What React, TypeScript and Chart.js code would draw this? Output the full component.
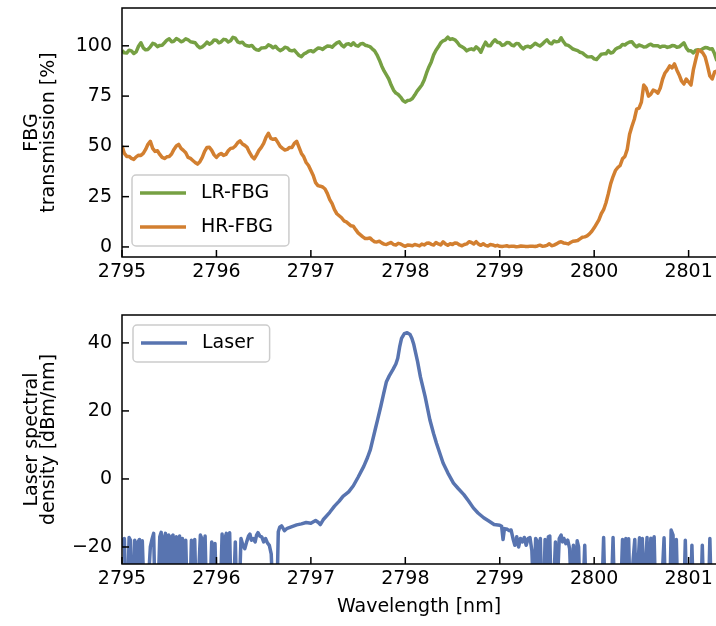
import React, { useEffect, useRef } from 'react';
import { Chart, registerables } from 'chart.js';

Chart.register(...registerables);

const FONT = "'DejaVu Sans', 'Liberation Sans', sans-serif";
const X_MIN = 2795;
const X_MAX = 2801.29;
const LINE_W = 3.5;

const wavelengthTicks = [2795, 2796, 2797, 2798, 2799, 2800, 2801];
const transmissionTicks = [0, 25, 50, 75, 100];
const densityTicks = [-20, 0, 20, 40];

const GREEN = '#76a043';
const ORANGE = '#d27f30';
const BLUE = '#5874b0';

// FBG spectra sampled every 0.025 nm starting at 2795.000 nm
const fbgStart = 2795.0;
const fbgStep = 0.025;

const lrFbg = [
  97.6, 96.5, 96.4, 97.8, 97.5, 96.2, 97.0, 99.8, 101.5, 99.0,
  98.0, 98.2, 99.5, 101.2, 100.8, 99.6, 100.2, 100.3, 101.5, 102.8,
  103.5, 102.0, 102.3, 103.6, 103.0, 102.0, 102.5, 103.5, 103.0, 102.0,
  101.8, 101.5, 100.0, 99.0, 99.5, 100.5, 101.8, 100.8, 101.5, 102.9,
  102.8, 101.5, 102.0, 103.2, 103.0, 101.9, 102.5, 104.2, 103.8, 102.0,
  101.5, 101.8, 100.5, 100.0, 99.8, 100.2, 98.8, 98.0, 97.8, 98.9,
  99.0, 99.2, 100.5, 100.0, 99.0, 99.8, 98.5, 97.6, 98.2, 99.3,
  99.0, 97.8, 97.5, 97.9, 96.5, 95.2, 94.6, 95.9, 96.5, 97.3,
  97.6, 97.0, 98.0, 98.9, 98.8, 98.2, 99.2, 99.9, 99.8, 99.3,
  100.5, 101.5, 102.0, 100.4, 99.5, 100.8, 101.0, 100.2, 101.5, 100.2,
  99.8, 100.9, 101.2, 100.3, 100.0, 99.6, 98.5, 97.5, 95.5, 93.0,
  90.0, 87.5, 85.5, 83.5, 80.5, 78.0, 76.5, 75.8, 74.5, 72.8,
  72.0, 72.8, 73.0, 73.8, 75.5, 77.5, 79.0, 80.5, 83.0, 86.5,
  89.5, 92.0, 95.5, 97.8, 99.5, 101.5, 102.5, 103.0, 104.3, 103.2,
  103.5, 103.0, 101.8, 100.2, 99.5, 98.8, 97.5, 98.2, 98.5, 98.0,
  99.5, 98.5, 96.8, 99.5, 101.8, 100.0, 100.0, 101.8, 103.0, 101.8,
  101.5, 100.2, 100.5, 101.6, 101.5, 100.4, 100.0, 101.2, 101.0, 99.5,
  98.5, 99.6, 99.8, 99.2, 100.2, 101.3, 100.5, 99.9, 100.8, 102.0,
  103.0, 101.5, 101.0, 102.4, 102.0, 102.2, 104.0, 102.0, 100.5, 100.2,
  99.3, 98.4, 98.0, 97.6, 96.8, 96.5, 95.5, 94.6, 94.5, 94.6,
  93.5, 93.2, 94.5, 95.8, 96.0, 96.0, 97.6, 96.4, 96.8, 98.3,
  99.0, 99.4, 100.7, 100.4, 101.3, 101.9, 102.0, 100.5, 99.5, 100.4,
  100.0, 99.4, 99.5, 100.3, 100.8, 100.0, 100.0, 100.0, 99.3, 99.8,
  99.8, 99.2, 99.5, 100.1, 100.0, 99.3, 99.5, 100.5, 101.5, 99.0,
  97.5, 97.5, 96.5, 97.8, 98.0, 97.8, 98.5, 99.2, 99.0, 98.4,
  98.5, 96.0, 92.5,
];

const hrFbg = [
  50.2, 46.5, 45.0, 45.0, 44.0, 43.5, 44.8, 45.6, 45.5, 46.5,
  48.5, 51.0, 52.5, 49.0, 47.5, 47.8, 46.0, 44.5, 44.0, 44.8,
  45.0, 46.2, 48.5, 50.2, 51.0, 49.0, 48.0, 46.8, 44.5, 44.0,
  43.0, 42.0, 41.2, 42.4, 44.5, 47.5, 49.5, 49.6, 48.0, 45.8,
  44.5, 45.8, 46.5, 45.5, 46.0, 47.8, 49.0, 49.2, 50.2, 51.8,
  52.7, 51.2, 50.5, 49.5, 47.0, 45.0, 43.8, 45.8, 48.0, 49.5,
  51.5, 54.5, 56.5, 54.0, 53.5, 53.8, 52.0, 50.0, 49.0, 48.2,
  48.5, 49.5, 49.5, 51.5, 52.5, 49.5, 46.5, 44.8, 42.0, 40.5,
  38.0, 35.5, 32.0, 30.5, 30.2, 29.8, 28.8, 26.5, 23.5, 21.5,
  18.5, 16.5, 15.5, 14.5, 13.0, 12.5, 11.5, 10.5, 10.3, 8.6,
  7.0, 6.0, 5.0, 4.2, 4.2, 4.5, 3.4, 2.6, 2.5, 2.8,
  2.0, 1.4, 1.2, 1.8, 2.2, 1.2, 1.0, 1.8, 1.5, 0.8,
  0.3, 1.0, 0.8, 0.6, 1.2, 0.9, 0.5, 1.4, 1.0, 1.8,
  2.0, 1.3, 1.0, 2.2, 1.5, 1.0, 2.5, 1.5, 0.8, 1.6,
  1.2, 2.0, 1.8, 1.0, 0.6, 1.2, 1.5, 2.6, 2.2, 1.5,
  2.6, 1.4, 0.8, 1.6, 0.8, 0.5, 1.2, 1.0, 0.5, 0.8,
  0.3, 0.2, 0.4, 0.6, 0.2, 0.4, 0.3, 0.1, 0.2, 0.5,
  0.4, 0.2, 0.2, 0.4, 0.3, 0.2, 0.5, 0.9, 0.4, 0.5,
  0.8, 1.6, 0.6, 0.9, 1.5, 2.2, 2.6, 2.0, 1.8, 1.5,
  2.2, 2.8, 3.0, 3.2, 4.0, 4.8, 5.0, 5.5, 6.5, 7.8,
  9.5, 11.5, 13.5, 16.5, 18.5, 22.0, 26.5, 31.5, 35.0, 38.0,
  39.5, 40.5, 43.8, 45.0, 48.5, 56.0, 60.0, 63.5, 68.5, 69.0,
  72.0, 80.5, 79.0, 75.0, 76.0, 78.0, 77.5, 76.5, 79.0, 83.5,
  86.5, 88.0, 90.0, 89.0, 91.0, 88.0, 85.5, 82.5, 81.0, 83.5,
  82.0, 80.5, 88.0, 93.0, 97.8, 97.5, 96.5, 94.5, 90.0, 85.0,
  83.5, 87.0, 87.5,
];

const laserWavelength = [
  2795.0, 2795.01, 2795.025, 2795.04, 2795.06, 2795.075, 2795.09, 2795.105, 2795.12, 2795.135,
  2795.15, 2795.17, 2795.185, 2795.2, 2795.215, 2795.235, 2795.27, 2795.3, 2795.32, 2795.335,
  2795.35, 2795.38, 2795.4, 2795.415, 2795.43, 2795.445, 2795.46, 2795.475, 2795.495, 2795.51,
  2795.525, 2795.54, 2795.555, 2795.575, 2795.59, 2795.61, 2795.625, 2795.64, 2795.655, 2795.675,
  2795.69, 2795.72, 2795.735, 2795.75, 2795.77, 2795.785, 2795.8, 2795.83, 2795.845, 2795.86,
  2795.88, 2795.895, 2795.93, 2795.95, 2795.965, 2795.985, 2796.0, 2796.04, 2796.06, 2796.075,
  2796.095, 2796.105, 2796.12, 2796.14, 2796.155, 2796.18, 2796.2, 2796.215, 2796.24, 2796.26,
  2796.28, 2796.3, 2796.32, 2796.34, 2796.355, 2796.37, 2796.39, 2796.41, 2796.425, 2796.44,
  2796.46, 2796.48, 2796.5, 2796.52, 2796.54, 2796.56, 2796.58, 2796.6, 2796.64, 2796.655,
  2796.67, 2796.69, 2796.72, 2796.75, 2796.8, 2796.85, 2796.9, 2796.95, 2797.0, 2797.05,
  2797.08, 2797.1, 2797.13, 2797.2, 2797.25, 2797.3, 2797.34, 2797.4, 2797.45, 2797.5,
  2797.56, 2797.6, 2797.63, 2797.68, 2797.71, 2797.74, 2797.77, 2797.8, 2797.83, 2797.87,
  2797.9, 2797.92, 2797.94, 2797.96, 2797.99, 2798.02, 2798.05, 2798.07, 2798.09, 2798.11,
  2798.13, 2798.16, 2798.21, 2798.26, 2798.3, 2798.33, 2798.4, 2798.45, 2798.51, 2798.56,
  2798.62, 2798.67, 2798.72, 2798.77, 2798.83, 2798.88, 2798.94, 2799.0, 2799.02, 2799.035,
  2799.05, 2799.08, 2799.1, 2799.12, 2799.14, 2799.16, 2799.18, 2799.2, 2799.22, 2799.24,
  2799.26, 2799.28, 2799.3, 2799.32, 2799.34, 2799.36, 2799.38, 2799.395, 2799.41, 2799.43,
  2799.445, 2799.465, 2799.48, 2799.495, 2799.515, 2799.53, 2799.545, 2799.565, 2799.59, 2799.605,
  2799.63, 2799.65, 2799.665, 2799.68, 2799.7, 2799.72, 2799.74, 2799.76, 2799.78, 2799.795,
  2799.82, 2799.835, 2799.85, 2799.88, 2799.9, 2799.915, 2800.08, 2800.1, 2800.115, 2800.18,
  2800.2, 2800.215, 2800.28, 2800.3, 2800.315, 2800.335, 2800.35, 2800.365, 2800.38, 2800.43,
  2800.445, 2800.48, 2800.495, 2800.51, 2800.525, 2800.56, 2800.575, 2800.6, 2800.615, 2800.635,
  2800.65, 2800.71, 2800.74, 2800.755, 2800.8, 2800.815, 2800.835, 2800.85, 2800.87, 2800.885,
  2800.95, 2800.965, 2800.98, 2801.02, 2801.035, 2801.05, 2801.13, 2801.145, 2801.16, 2801.21,
  2801.225, 2801.24, 2801.3,
];

const laserDensity = [
  -19.5, -18.0, -17.5, -35, -35, -17.2, -18.0, -35, -35, -18.0,
  -35, -18.5, -17.8, -35, -18.2, -35, -35, -20.0, -17.5, -16.0,
  -35, -35, -17.0, -15.7, -35, -17.5, -16.0, -35, -16.5, -35,
  -17.0, -16.5, -35, -17.0, -35, -16.8, -35, -17.5, -35, -18.0,
  -35, -35, -18.0, -35, -17.8, -35, -35, -16.5, -17.5, -35,
  -16.8, -35, -35, -18.5, -35, -19.0, -35, -35, -16.2, -35,
  -17.0, -16.0, -35, -15.8, -35, -35, -18.5, -35, -35, -17.5,
  -19.5, -20.5, -18.5, -16.8, -16.2, -18.0, -17.5, -18.5, -16.5, -15.8,
  -16.8, -17.0, -18.5, -17.5, -18.8, -19.5, -22.0, -35, -35, -15.5,
  -14.2, -13.8, -15.2, -14.5, -14.0, -13.5, -13.2, -12.8, -13.0, -12.2,
  -12.8, -13.4, -12.0, -9.8, -8.0, -6.5, -5.1, -3.8, -2.0, 0.5,
  3.7, 6.3, 8.6, 14.4, 17.8, 21.3, 25.0, 28.6, 30.3, 32.2,
  33.8, 35.5, 38.8, 41.3, 42.7, 43.0, 42.5, 41.3, 39.5, 37.0,
  34.5, 30.0, 24.2, 17.4, 13.3, 10.5, 4.7, 1.8, -1.2, -2.8,
  -4.6, -6.5, -8.5, -10.0, -11.4, -12.3, -13.4, -13.6, -13.9, -17.8,
  -14.6, -14.8, -15.2, -15.0, -17.5, -19.5, -17.0, -20.0, -17.5, -18.5,
  -17.2, -19.5, -17.5, -17.2, -21.0, -35, -17.5, -18.2, -35, -17.5,
  -35, -35, -17.8, -35, -17.0, -16.8, -35, -35, -18.5, -35,
  -17.5, -16.5, -18.5, -17.5, -19.0, -18.0, -20.5, -35, -19.5, -35,
  -18.2, -20.0, -35, -35, -19.5, -35, -35, -17.2, -35, -35,
  -17.2, -35, -35, -17.8, -35, -17.5, -35, -17.6, -35, -17.8,
  -35, -17.3, -35, -17.5, -35, -17.2, -35, -17.4, -35, -17.0,
  -35, -35, -17.3, -35, -35, -15.0, -16.5, -35, -17.8, -35,
  -35, -18.0, -35, -35, -19.5, -35, -35, -19.5, -35, -35,
  -17.5, -35, -35,
];

const fbgPoints = (ys: number[]) => ys.map((y, i) => ({ x: fbgStart + i * fbgStep, y }));
const toPoints = (xs: number[], ys: number[]) => xs.map((x, i) => ({ x, y: ys[i] }));
const fmt = (v: number) => (v < 0 ? '\u2212' + String(Math.abs(v)) : String(v));

const framePlugin = {
  id: 'mplFrame',
  afterDatasetsDraw(chart: any) {
    const { ctx, chartArea: a, scales } = chart;
    ctx.save();
    ctx.strokeStyle = '#000';
    ctx.lineWidth = 1.5;
    ctx.lineCap = 'butt';
    const tl = 7;
    scales.x.ticks.forEach((t: any) => {
      const px = scales.x.getPixelForValue(t.value);
      ctx.beginPath();
      ctx.moveTo(px, a.bottom);
      ctx.lineTo(px, a.bottom - tl);
      ctx.stroke();
    });
    scales.y.ticks.forEach((t: any) => {
      const py = scales.y.getPixelForValue(t.value);
      ctx.beginPath();
      ctx.moveTo(a.left, py);
      ctx.lineTo(a.left + tl, py);
      ctx.stroke();
    });
    ctx.lineJoin = 'miter';
    ctx.beginPath();
    ctx.moveTo(a.right + 2, a.top);
    ctx.lineTo(a.left, a.top);
    ctx.lineTo(a.left, a.bottom);
    ctx.lineTo(a.right + 2, a.bottom);
    ctx.stroke();
    ctx.restore();
  },
};

const legendPlugin = {
  id: 'boxLegend',
  afterDraw(chart: any, _args: any, opts: any) {
    const { ctx, chartArea: a } = chart;
    const ds = chart.data.datasets;
    const n = ds.length;
    const rowGap = 34;
    const h = 18 + (n - 1) * rowGap + 19;
    ctx.save();
    ctx.font = `19px ${FONT}`;
    let tw = 0;
    ds.forEach((d: any) => { tw = Math.max(tw, ctx.measureText(d.label).width); });
    const w = 8 + 46 + 15 + tw + 16;
    const left = a.left + opts.dx;
    const top = opts.anchor === 'bottom' ? a.bottom - opts.dy - h : a.top + opts.dy;
    ctx.beginPath();
    ctx.roundRect(left, top, w, h, 4);
    ctx.fillStyle = 'rgba(255,255,255,0.8)';
    ctx.fill();
    ctx.strokeStyle = '#cccccc';
    ctx.lineWidth = 1.5;
    ctx.stroke();
    ds.forEach((d: any, i: number) => {
      const y = top + 18 + i * rowGap;
      ctx.beginPath();
      ctx.moveTo(left + 8, y);
      ctx.lineTo(left + 54, y);
      ctx.strokeStyle = d.borderColor;
      ctx.lineWidth = LINE_W;
      ctx.lineCap = 'butt';
      ctx.stroke();
      ctx.fillStyle = '#000';
      ctx.textBaseline = 'middle';
      ctx.textAlign = 'left';
      ctx.fillText(d.label, left + 69, y);
    });
    ctx.restore();
  },
};

type Cfg = {
  yMin: number;
  yMax: number;
  yTicks: number[];
  yTitle: string[];
  xHeight: number;
  xTitle?: string;
  topPad: number;
  legend: any;
};

function makeOptions(cfg: Cfg): any {
  const tickFont = { family: FONT, size: 19 };
  return {
    responsive: false,
    maintainAspectRatio: false,
    animation: false,
    devicePixelRatio: 1,
    layout: { padding: { top: cfg.topPad, left: 0, right: 0, bottom: 0 } },
    plugins: {
      legend: { display: false },
      tooltip: { enabled: false },
      title: { display: false },
      boxLegend: cfg.legend,
    },
    elements: { point: { radius: 0 }, line: { tension: 0 } },
    scales: {
      x: {
        type: 'linear',
        min: X_MIN,
        max: X_MAX,
        afterBuildTicks: (s: any) => { s.ticks = wavelengthTicks.map((v) => ({ value: v })); },
        afterFit: (s: any) => {
          s.height = cfg.xHeight;
          s.paddingLeft = 0; s.paddingRight = 0; s.paddingTop = 0; s.paddingBottom = 0;
        },
        grid: { display: false, drawTicks: false },
        border: { display: false },
        ticks: { color: '#000', padding: 4, font: tickFont, maxRotation: 0, autoSkip: false, callback: (v: number) => fmt(v) },
        title: cfg.xTitle
          ? { display: true, text: cfg.xTitle, color: '#000', font: { family: FONT, size: 19, lineHeight: 1.2 }, padding: { top: 0, bottom: 7.6 } }
          : { display: false },
      },
      y: {
        type: 'linear',
        min: cfg.yMin,
        max: cfg.yMax,
        afterBuildTicks: (s: any) => { s.ticks = cfg.yTicks.map((v) => ({ value: v })); },
        afterFit: (s: any) => {
          s.width = 122;
          s.paddingLeft = 0; s.paddingRight = 0; s.paddingTop = 0; s.paddingBottom = 0;
        },
        grid: { display: false, drawTicks: false },
        border: { display: false },
        ticks: { color: '#000', padding: 10, font: tickFont, autoSkip: false, callback: (v: number) => fmt(v) },
        title: { display: true, text: cfg.yTitle, color: '#000', font: { family: FONT, size: 19, lineHeight: '17.5px' }, padding: { top: 23, bottom: 0 } },
      },
    },
  };
}

const lineDs = (label: string, data: { x: number; y: number }[], color: string, order: number): any => ({
  label,
  data,
  borderColor: color,
  borderWidth: LINE_W,
  borderJoinStyle: 'round',
  pointRadius: 0,
  fill: false,
  clip: 0,
  order,
});

export default function App() {
  const topRef = useRef<HTMLCanvasElement>(null);
  const botRef = useRef<HTMLCanvasElement>(null);

  useEffect(() => {
    const c1 = new Chart(topRef.current as HTMLCanvasElement, {
      type: 'line',
      data: {
        datasets: [
          lineDs('LR-FBG', fbgPoints(lrFbg), GREEN, 1),
          lineDs('HR-FBG', fbgPoints(hrFbg), ORANGE, 0),
        ],
      },
      options: makeOptions({
        yMin: -5, yMax: 118.8, yTicks: transmissionTicks, yTitle: ['FBG', 'transmission [%]'],
        xHeight: 33, topPad: 8, legend: { anchor: 'bottom', dx: 10, dy: 11 },
      }),
      plugins: [framePlugin, legendPlugin],
    });
    const c2 = new Chart(botRef.current as HTMLCanvasElement, {
      type: 'line',
      data: {
        datasets: [lineDs('Laser', toPoints(laserWavelength, laserDensity), BLUE, 0)],
      },
      options: makeOptions({
        yMin: -25, yMax: 48.2, yTicks: densityTicks, yTitle: ['Laser spectral', 'density [dBm/nm]'],
        xHeight: 62, xTitle: 'Wavelength [nm]', topPad: 25, legend: { anchor: 'top', dx: 11, dy: 10 },
      }),
      plugins: [framePlugin, legendPlugin],
    });
    return () => { c1.destroy(); c2.destroy(); };
  }, []);

  return (
    <div style={{ position: 'absolute', left: 0, top: 0, width: 716, height: 626, background: '#fff' }}>
      <canvas ref={topRef} width={716} height={290} style={{ display: 'block', width: 716, height: 290 }} />
      <canvas ref={botRef} width={716} height={336} style={{ display: 'block', width: 716, height: 336 }} />
    </div>
  );
}
